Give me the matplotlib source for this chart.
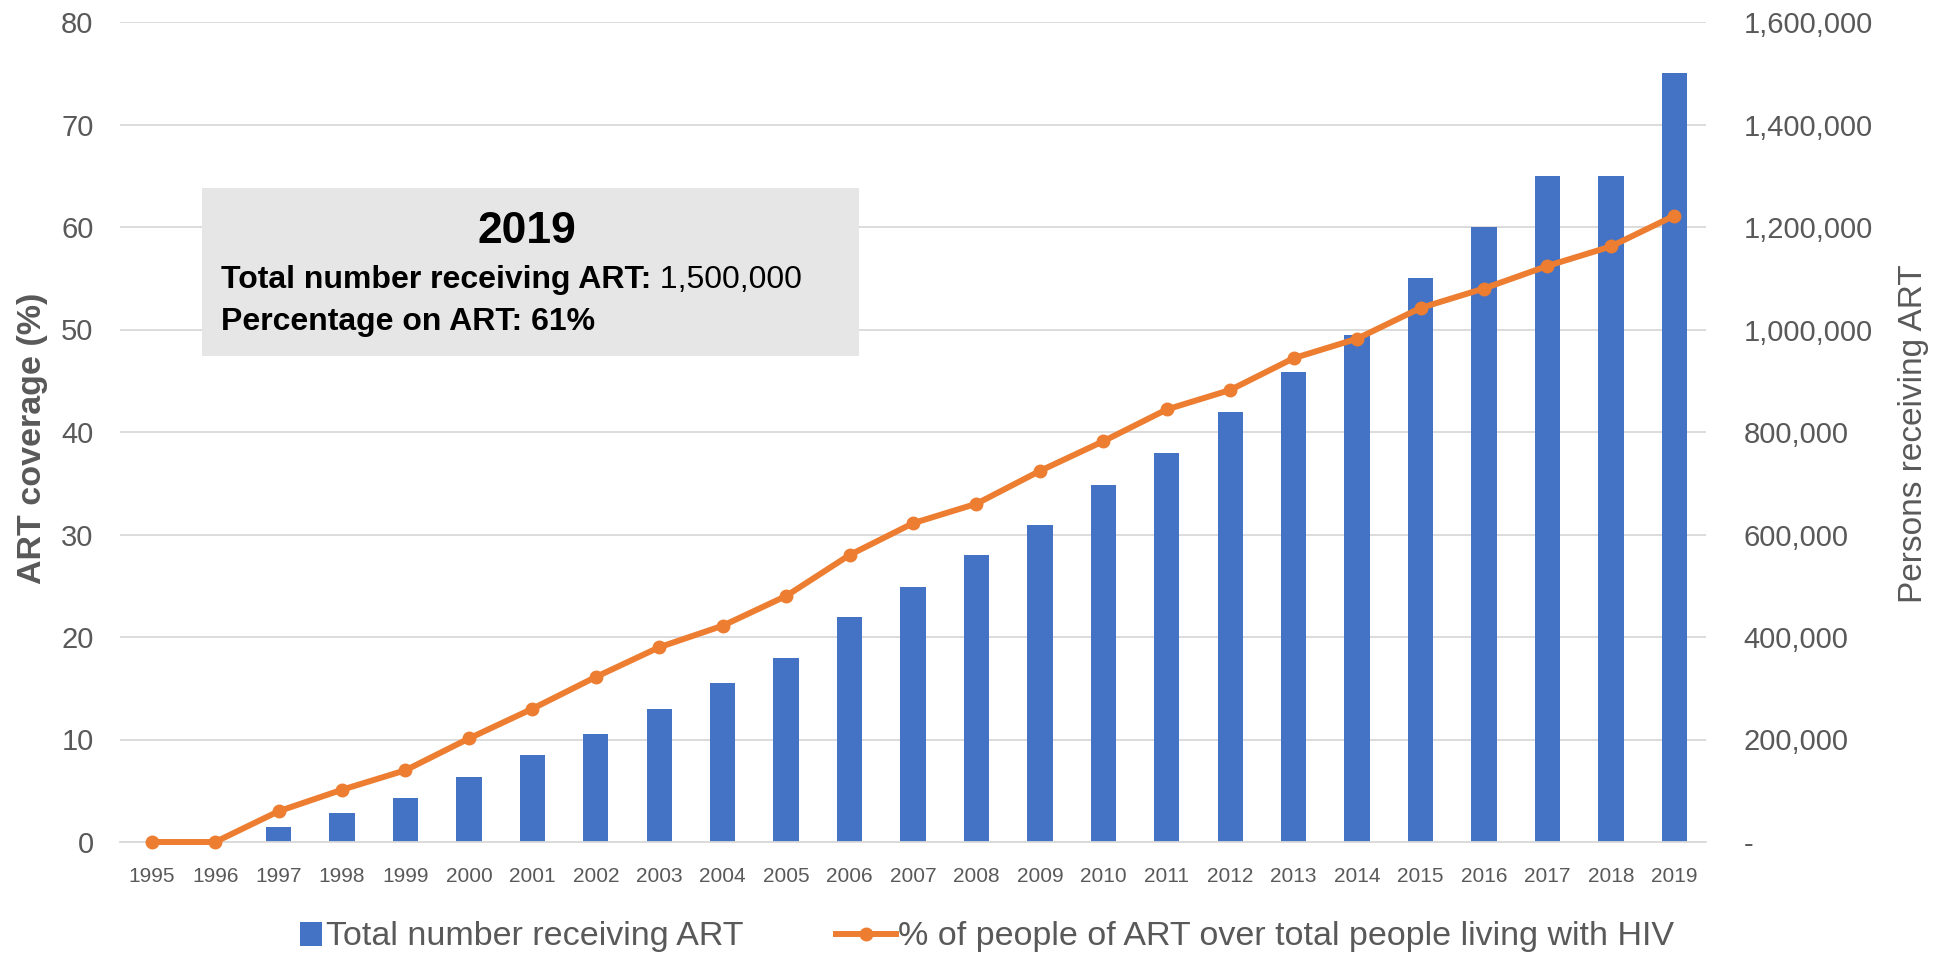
import matplotlib
matplotlib.use("Agg")
import matplotlib.pyplot as plt
from matplotlib.patches import Rectangle, Patch
from matplotlib.lines import Line2D
from matplotlib.ticker import FuncFormatter
import numpy as np

# --- data ---
years = [str(y) for y in range(1995, 2020)]
persons_on_art = [0, 0, 30000, 57000, 86000, 127000, 170000, 210000, 260000,
                  310000, 360000, 440000, 498000, 560000, 618000, 697000,
                  760000, 840000, 918000, 990000, 1100000, 1200000, 1300000,
                  1300000, 1500000]
art_coverage = [0, 0, 3.0, 5.1, 7.0, 10.1, 13.0, 16.1, 19.0, 21.1, 24.0, 28.0,
                31.1, 33.0, 36.2, 39.1, 42.2, 44.1, 47.2, 49.1, 52.1, 54.0,
                56.2, 58.1, 61.1]
left_ticks = [0, 10, 20, 30, 40, 50, 60, 70, 80]
right_ticks = [0, 200000, 400000, 600000, 800000, 1000000, 1200000, 1400000, 1600000]

BLUE = "#4472C4"
ORANGE = "#ED7D31"
GRID = "#D9D9D9"
TXT = "#595959"
FONT = ["Liberation Sans", "DejaVu Sans"]
plt.rcParams["font.family"] = FONT

W, H = 1944, 956
fig = plt.figure(figsize=(W / 100, H / 100), dpi=100)

def fx(px):
    return px / W

def fy(py):
    return 1 - py / H

ax = fig.add_axes([fx(120), fy(842), fx(1706) - fx(120), fy(22) - fy(842)])
ax2 = ax.twinx()

x = np.arange(len(years))

# bars on the right axis, with the grid behind them
ax2.bar(x, persons_on_art, width=0.4, color=BLUE, zorder=2)
ax2.set_ylim(0, 1600000)
ax2.set_yticks(right_ticks)
ax2.yaxis.set_major_formatter(FuncFormatter(lambda v, p: "-" if v == 0 else f"{int(v):,}"))
ax2.set_axisbelow(True)
ax2.grid(axis="y", color=GRID, linewidth=1.3, zorder=0)

# line on the left axis, drawn on top
ax.set_zorder(ax2.get_zorder() + 1)
ax.patch.set_visible(False)
ax.plot(x, art_coverage, color=ORANGE, linewidth=4.3, marker="o", markersize=9,
        solid_capstyle="round", zorder=5, clip_on=False)
ax.set_ylim(0, 80)
ax.set_yticks(left_ticks)
ax.set_xlim(-0.5, len(years) - 0.5)
ax.set_xticks(x)
ax.set_xticklabels(years)

for a in (ax, ax2):
    for s in a.spines.values():
        s.set_visible(False)
ax2.spines["bottom"].set_visible(True)
ax2.spines["bottom"].set_color(GRID)
ax2.spines["bottom"].set_linewidth(1.3)

ax.tick_params(axis="y", length=0, pad=19, labelsize=21, labelcolor=TXT)
ax2.tick_params(axis="y", length=0, pad=27, labelsize=21, labelcolor=TXT)
ax.tick_params(axis="x", length=0, pad=18, labelsize=15, labelcolor=TXT)

fig.text(fx(33), fy(438), "ART coverage (%)", rotation=90, ha="center", va="center",
         fontsize=24.5, fontweight="bold", color=TXT)
fig.text(fx(1913), fy(434), "Persons receiving ART", rotation=90, ha="center",
         va="center", fontsize=24, color=TXT)

# summary box
fig.patches.append(Rectangle((fx(202), fy(356)), fx(859) - fx(202), fy(188) - fy(356),
                             transform=fig.transFigure, facecolor="#E7E6E6",
                             edgecolor="none", zorder=10))
fig.text(fx(527), fy(243), "2019", ha="center", va="baseline", fontsize=32,
         fontweight="bold", color="black", zorder=11)
t1 = fig.text(fx(221), fy(288), "Total number receiving ART:", ha="left", va="baseline",
              fontsize=23, fontweight="bold", color="black", zorder=11)
fig.text(fx(221), fy(330), "Percentage on ART: 61%", ha="left", va="baseline",
         fontsize=23, fontweight="bold", color="black", zorder=11)

# number after the bold part of line 2
fig.canvas.draw()
bb = t1.get_window_extent(fig.canvas.get_renderer())
fig.text(bb.x1 / W, fy(288), " 1,500,000", ha="left", va="baseline",
         fontsize=23, color="black", zorder=11)

# legend: two entries with different key sizes
leg1 = fig.legend([Patch(facecolor=BLUE, edgecolor="none")],
                  ["Total number receiving ART"],
                  loc="center left", bbox_to_anchor=(fx(300), fy(937)),
                  frameon=False, fontsize=24.5, handlelength=0.65, handleheight=0.7,
                  handletextpad=0.12, borderpad=0, borderaxespad=0)
leg2 = fig.legend([Line2D([0], [0], color=ORANGE, linewidth=4.3, marker="o", markersize=9)],
                  ["% of people of ART over total people living with HIV"],
                  loc="center left", bbox_to_anchor=(fx(836), fy(937)),
                  frameon=False, fontsize=24.5, handlelength=1.76,
                  handletextpad=0.06, borderpad=0, borderaxespad=0)
for leg in (leg1, leg2):
    for t in leg.get_texts():
        t.set_color(TXT)

fig.savefig("out.png", dpi=100)
